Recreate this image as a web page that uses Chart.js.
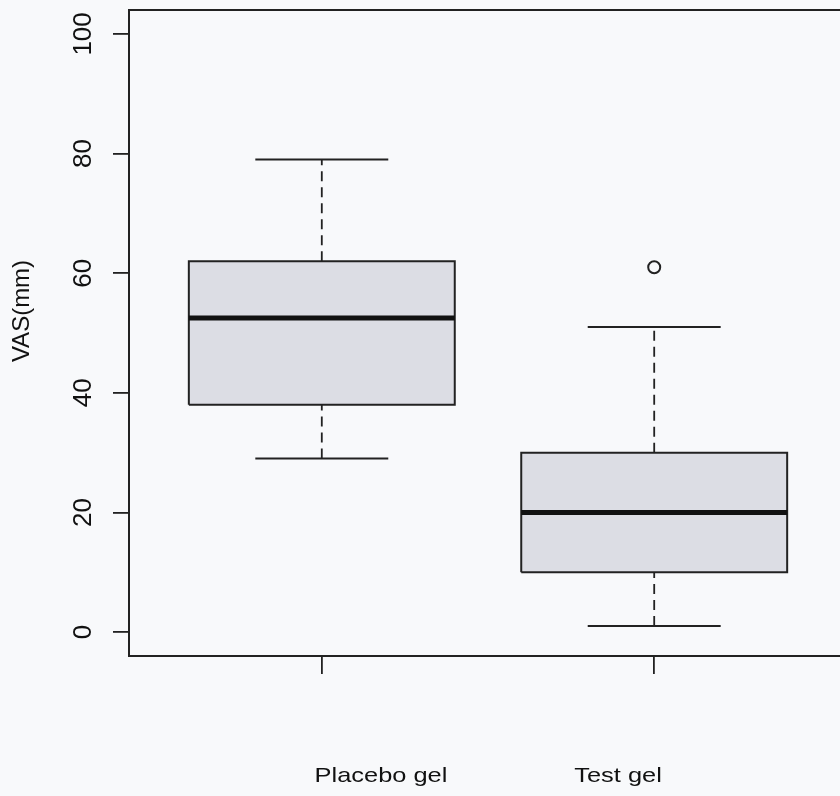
<!DOCTYPE html>
<html>
<head>
<meta charset="utf-8">
<script src="https://cdn.jsdelivr.net/npm/chart.js@4"></script>
<style>
  html, body { margin: 0; padding: 0; background: #f8f9fb; overflow: hidden; }
  #wrap { width: 840px; height: 796px; overflow: hidden; }
</style>
</head>
<body>
<div id="wrap"><canvas id="chart" width="860" height="796"></canvas></div>
<script>
const groups = ["Placebo gel", "Test gel"];
const whiskerLow = [29, 1];
const q1 = [38, 10];
const median = [52.5, 20];
const q3 = [62, 30];
const whiskerHigh = [79, 51];
const outliers = [[], [61]];
const yTicks = [0, 20, 40, 60, 80, 100];

const ink = "#222222";
const boxFill = "#dcdde4";
const font = "'Liberation Sans', Arial, sans-serif";

// armar datasets de cada caja
const datasets = [];
groups.forEach((g, i) => {
  const c = i + 1;
  datasets.push({
    label: g + " box",
    data: [
      { x: c - 0.4, y: q1[i] }, { x: c + 0.4, y: q1[i] },
      { x: c + 0.4, y: q3[i] }, { x: c - 0.4, y: q3[i] },
      { x: c - 0.4, y: q1[i] },
    ],
    showLine: true, fill: "shape", backgroundColor: boxFill,
    borderColor: ink, borderWidth: 2, pointRadius: 0, order: 3,
  });
  datasets.push({
    label: g + " median",
    data: [{ x: c - 0.4, y: median[i] }, { x: c + 0.4, y: median[i] }],
    showLine: true, borderColor: "#111", borderWidth: 5, pointRadius: 0, order: 0,
  });
  // bigotes punteados
  datasets.push({
    label: g + " upper whisker",
    data: [{ x: c, y: q3[i] }, { x: c, y: whiskerHigh[i] }],
    showLine: true, borderColor: ink, borderWidth: 1.8, borderDash: [10, 6], pointRadius: 0, order: 2,
  });
  datasets.push({
    label: g + " lower whisker",
    data: [{ x: c, y: whiskerLow[i] }, { x: c, y: q1[i] }],
    showLine: true, borderColor: ink, borderWidth: 1.8, borderDash: [10, 6], pointRadius: 0, order: 2,
  });
  [whiskerHigh[i], whiskerLow[i]].forEach((v) => {
    datasets.push({
      label: g + " cap",
      data: [{ x: c - 0.2, y: v }, { x: c + 0.2, y: v }],
      showLine: true, borderColor: ink, borderWidth: 2, pointRadius: 0, order: 1,
    });
  });
  if (outliers[i].length) {
    datasets.push({
      label: g + " outliers",
      data: outliers[i].map((v) => ({ x: c, y: v })),
      showLine: false, pointRadius: 6, pointBorderWidth: 2,
      pointBorderColor: ink, pointBackgroundColor: "rgba(0,0,0,0)", order: 0,
    });
  }
});

// fondo, marco, etiquetas de grupo y titulo del eje
const decor = {
  id: "decor",
  beforeDraw(chart) {
    const ctx = chart.ctx;
    ctx.save();
    ctx.fillStyle = "#f8f9fb";
    ctx.fillRect(0, 0, chart.width, chart.height);
    ctx.restore();
  },
  afterDraw(chart) {
    const ctx = chart.ctx;
    const a = chart.chartArea;
    ctx.save();
    ctx.strokeStyle = ink;
    ctx.lineWidth = 2;
    ctx.strokeRect(a.left, a.top, a.right - a.left, a.bottom - a.top);
    ctx.fillStyle = "#111";
    ctx.font = "21px " + font;
    ctx.textAlign = "center";
    ctx.textBaseline = "alphabetic";
    const labelX = [381, 618];
    groups.forEach((g, i) => {
      ctx.save();
      ctx.translate(labelX[i], 782);
      ctx.scale(1.21, 1);
      ctx.fillText(g, 0, 0);
      ctx.restore();
    });
    ctx.font = "24px " + font;
    ctx.translate(22, 311);
    ctx.rotate(-Math.PI / 2);
    ctx.textBaseline = "middle";
    ctx.fillText("VAS(mm)", 0, 0);
    ctx.restore();
  },
};

new Chart(document.querySelector("#chart"), {
  type: "scatter",
  data: { datasets },
  options: {
    responsive: false,
    animation: false,
    layout: { padding: { left: 0, top: 10, right: 13, bottom: 0 } },
    plugins: { legend: { display: false }, tooltip: { enabled: false } },
    scales: {
      x: {
        type: "linear", min: 0.42, max: 2.58,
        afterBuildTicks: (s) => { s.ticks = groups.map((g, i) => ({ value: i + 1 })); },
        afterFit: (s) => { s.height = 140; s.paddingLeft = 0; s.paddingRight = 0; },
        grid: { drawOnChartArea: false, drawTicks: true, tickLength: 18, color: ink, lineWidth: 1.8 },
        border: { display: false },
        ticks: { display: false },
      },
      y: {
        type: "linear", min: -4, max: 104,
        afterBuildTicks: (s) => { s.ticks = yTicks.map((v) => ({ value: v })); },
        afterFit: (s) => { s.width = 129; s.paddingTop = 0; s.paddingBottom = 0; },
        grid: { drawOnChartArea: false, drawTicks: true, tickLength: 16, color: ink, lineWidth: 1.8 },
        border: { display: false },
        ticks: {
          color: "#111", font: { family: font, size: 26 },
          minRotation: 90, maxRotation: 90, crossAlign: "center", padding: 7,
        },
      },
    },
  },
  plugins: [decor],
});
</script>
</body>
</html>
